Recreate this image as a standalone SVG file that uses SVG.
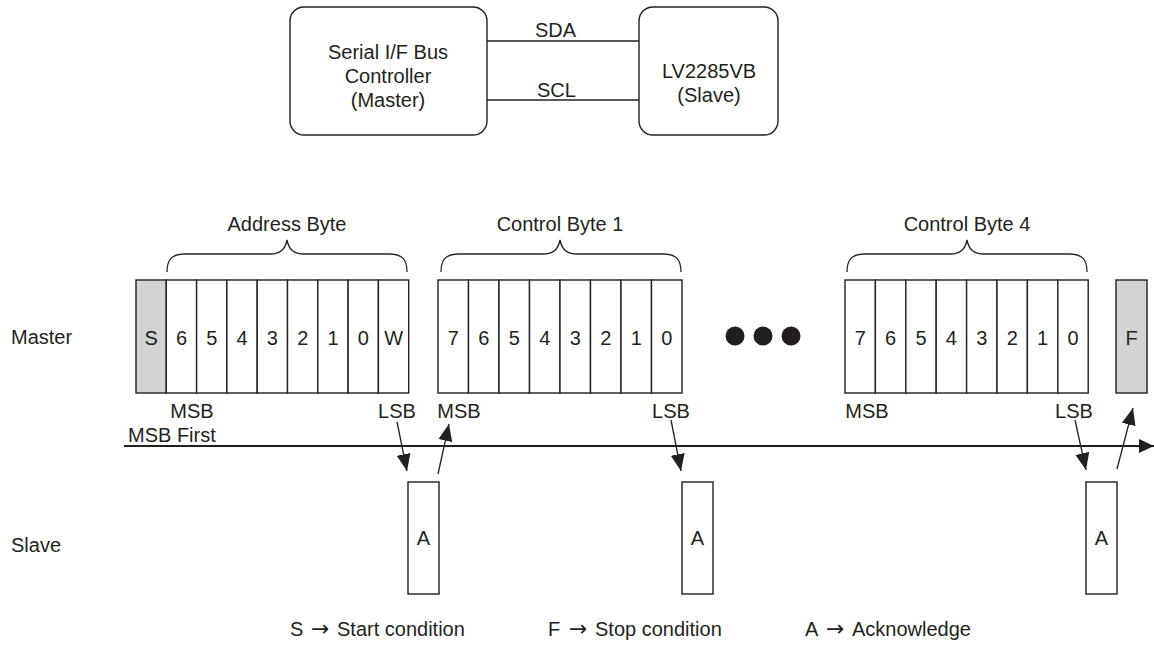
<svg xmlns="http://www.w3.org/2000/svg" width="1154" height="648" viewBox="0 0 1154 648">
<style>
text{font-family:"Liberation Sans",Arial,sans-serif;font-size:20px;fill:#231f20}
.c{text-anchor:middle}
.sym{font-family:"DejaVu Sans",sans-serif;font-size:22px}
.box{fill:#fff;stroke:#231f20;stroke-width:1.4}
.cell{fill:#fff;stroke:#231f20;stroke-width:1.4}
.grey{fill:#d1d3d4;stroke:#231f20;stroke-width:1.4}
.ln{fill:none;stroke:#231f20;stroke-width:1.3}
.brace{fill:none;stroke:#231f20;stroke-width:1.3}
.arr{fill:none;stroke:#231f20;stroke-width:1.3;marker-end:url(#ah)}
</style>
<defs>
<marker id="ah" markerUnits="userSpaceOnUse" markerWidth="18" markerHeight="16" viewBox="0 0 18 16" refX="17" refY="8" orient="auto">
<path d="M0,1 L17,8 L0,15 Z" fill="#231f20"/>
</marker>
<marker id="axh" markerUnits="userSpaceOnUse" markerWidth="16" markerHeight="16" viewBox="0 0 16 16" refX="15" refY="8" orient="auto">
<path d="M0,1 L15,8 L0,15 Z" fill="#231f20"/>
</marker>
</defs>
<rect width="1154" height="648" fill="#fff"/>

<g id="master-controller">
<rect class="box" x="290" y="7" width="197" height="128" rx="14"/>
<text class="c" x="388" y="59">Serial I/F Bus</text>
<text class="c" x="388" y="83">Controller</text>
<text class="c" x="388" y="107">(Master)</text>
</g>
<g id="slave-device">
<rect class="box" x="639" y="7" width="139" height="128" rx="14"/>
<text class="c" x="709" y="78">LV2285VB</text>
<text class="c" x="709" y="102">(Slave)</text>
</g>

<g id="row-labels">
<text x="11" y="344">Master</text>
<text x="11" y="552">Slave</text>
</g>

<g id="address-byte">
<text class="c" x="287" y="231">Address Byte</text>
<path class="brace" d="M167,272 C167,259 172,254 185,254 L270,254 C280,254 285,250 287,240 C289,250 294,254 304,254 L389,254 C402,254 407,259 407,272"/>
<rect class="grey" x="136" y="280" width="30.3" height="113"/>
<rect class="cell" x="166.3" y="280" width="30.3" height="113"/>
<rect class="cell" x="196.6" y="280" width="30.3" height="113"/>
<rect class="cell" x="226.9" y="280" width="30.3" height="113"/>
<rect class="cell" x="257.2" y="280" width="30.3" height="113"/>
<rect class="cell" x="287.5" y="280" width="30.3" height="113"/>
<rect class="cell" x="317.8" y="280" width="30.3" height="113"/>
<rect class="cell" x="348.1" y="280" width="30.3" height="113"/>
<rect class="cell" x="378.4" y="280" width="30.3" height="113"/>
<text class="c" x="151.2" y="345">S</text>
<text class="c" x="181.5" y="345">6</text>
<text class="c" x="211.8" y="345">5</text>
<text class="c" x="242.1" y="345">4</text>
<text class="c" x="272.4" y="345">3</text>
<text class="c" x="302.7" y="345">2</text>
<text class="c" x="333" y="345">1</text>
<text class="c" x="363.3" y="345">0</text>
<text class="c" x="393.6" y="345">W</text>
<text class="c" x="192" y="418">MSB</text>
<text class="c" x="397" y="418">LSB</text>
</g>

<g id="control-byte-1">
<text class="c" x="560" y="231">Control Byte 1</text>
<path class="brace" d="M441,272 C441,259 446,254 459,254 L543,254 C553,254 558,250 560,240 C562,250 567,254 577,254 L663,254 C676,254 681,259 681,272"/>
<rect class="cell" x="438" y="280" width="30.5" height="113"/>
<rect class="cell" x="468.5" y="280" width="30.5" height="113"/>
<rect class="cell" x="499" y="280" width="30.5" height="113"/>
<rect class="cell" x="529.5" y="280" width="30.5" height="113"/>
<rect class="cell" x="560" y="280" width="30.5" height="113"/>
<rect class="cell" x="590.5" y="280" width="30.5" height="113"/>
<rect class="cell" x="621" y="280" width="30.5" height="113"/>
<rect class="cell" x="651.5" y="280" width="30.5" height="113"/>
<text class="c" x="453.2" y="345">7</text>
<text class="c" x="483.7" y="345">6</text>
<text class="c" x="514.2" y="345">5</text>
<text class="c" x="544.7" y="345">4</text>
<text class="c" x="575.2" y="345">3</text>
<text class="c" x="605.7" y="345">2</text>
<text class="c" x="636.2" y="345">1</text>
<text class="c" x="666.7" y="345">0</text>
<text class="c" x="459" y="418">MSB</text>
<text class="c" x="671" y="418">LSB</text>
</g>

<g id="ellipsis">
<circle cx="735" cy="336" r="9.5" fill="#231f20"/>
<circle cx="763" cy="336" r="9.5" fill="#231f20"/>
<circle cx="791" cy="336" r="9.5" fill="#231f20"/>
</g>

<g id="control-byte-4">
<text class="c" x="967" y="231">Control Byte 4</text>
<path class="brace" d="M847,272 C847,259 852,254 865,254 L950,254 C960,254 965,250 967,240 C969,250 974,254 984,254 L1069,254 C1082,254 1087,259 1087,272"/>
<rect class="cell" x="845" y="280" width="30.4" height="113"/>
<rect class="cell" x="875.4" y="280" width="30.4" height="113"/>
<rect class="cell" x="905.8" y="280" width="30.4" height="113"/>
<rect class="cell" x="936.2" y="280" width="30.4" height="113"/>
<rect class="cell" x="966.6" y="280" width="30.4" height="113"/>
<rect class="cell" x="997" y="280" width="30.4" height="113"/>
<rect class="cell" x="1027.4" y="280" width="30.4" height="113"/>
<rect class="cell" x="1057.8" y="280" width="30.4" height="113"/>
<text class="c" x="860.2" y="345">7</text>
<text class="c" x="890.6" y="345">6</text>
<text class="c" x="921" y="345">5</text>
<text class="c" x="951.4" y="345">4</text>
<text class="c" x="981.8" y="345">3</text>
<text class="c" x="1012.2" y="345">2</text>
<text class="c" x="1042.6" y="345">1</text>
<text class="c" x="1073" y="345">0</text>
<text class="c" x="867" y="418">MSB</text>
<text class="c" x="1074" y="418">LSB</text>
</g>

<g id="stop">
<rect class="grey" x="1116" y="280" width="31" height="113"/>
<text class="c" x="1131.5" y="345">F</text>
</g>

<g id="ack-1">
<rect class="box" x="408" y="482" width="31" height="112"/>
<text class="c" x="423.5" y="545">A</text>
</g>
<g id="ack-2">
<rect class="box" x="682" y="482" width="31" height="112"/>
<text class="c" x="697.5" y="545">A</text>
</g>
<g id="ack-3">
<rect class="box" x="1086" y="482" width="31" height="112"/>
<text class="c" x="1101.5" y="545">A</text>
</g>

<text x="128" y="442">MSB First</text>

<g id="connectors">
<line class="ln" x1="487" y1="41" x2="639" y2="41"/>
<line class="ln" x1="487" y1="100" x2="639" y2="100"/>
<text x="535" y="37">SDA</text>
<text x="537" y="97">SCL</text>
<line x1="124" y1="446" x2="1154" y2="446" stroke="#231f20" stroke-width="2.2" marker-end="url(#axh)"/>
<line class="arr" x1="397" y1="422" x2="407" y2="471"/>
<line class="arr" x1="438" y1="474" x2="449" y2="424"/>
<line class="arr" x1="671" y1="420" x2="681" y2="471"/>
<line class="arr" x1="1075" y1="420" x2="1086" y2="470"/>
<line class="arr" x1="1117" y1="469" x2="1133" y2="408"/>
</g>

<g id="legend">
<text x="290" y="636">S<tspan class="sym" x="311">→</tspan><tspan x="337">Start condition</tspan></text>
<text x="548" y="636">F<tspan class="sym" x="569">→</tspan><tspan x="595">Stop condition</tspan></text>
<text x="805" y="636">A<tspan class="sym" x="826">→</tspan><tspan x="852">Acknowledge</tspan></text>
</g>
</svg>
